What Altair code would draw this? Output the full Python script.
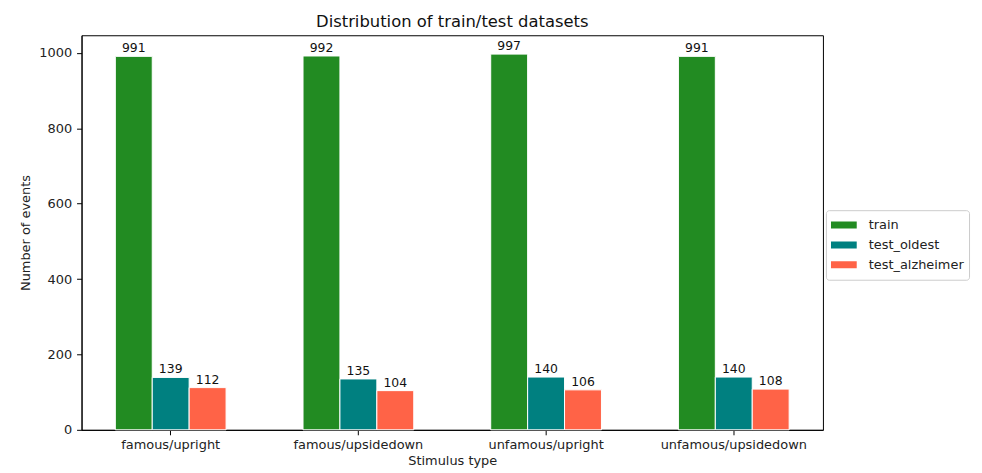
import altair as alt
import pandas as pd

categories = ["famous/upright", "famous/upsidedown", "unfamous/upright", "unfamous/upsidedown"]
series = ["train", "test_oldest", "test_alzheimer"]
train = [991, 992, 997, 991]
test_oldest = [139, 135, 140, 140]
test_alzheimer = [112, 104, 106, 108]
colors = ["#228B22", "#008080", "#FF6347"]

rows = []
for i, c in enumerate(categories):
    for s, vals in zip(series, [train, test_oldest, test_alzheimer]):
        rows.append({"category": c, "dataset": s, "value": vals[i]})
df = pd.DataFrame(rows)

FONT = "DejaVu Sans"

x = alt.X("category:N", sort=categories, title="Stimulus type",
          scale=alt.Scale(paddingInner=0.41, paddingOuter=0.18),
          axis=alt.Axis(labelAngle=0, labelFontSize=13, titleFontSize=13,
                        labelPadding=4, titlePadding=3, tickSize=5,
                        domainColor="#000", tickColor="#000",
                        labelColor="#222", titleColor="#222",
                        labelFont=FONT, titleFont=FONT, titleFontWeight="normal"))
xo = alt.XOffset("dataset:N", sort=series, scale=alt.Scale(paddingInner=0, paddingOuter=0))
y = alt.Y("value:Q", title="Number of events",
          scale=alt.Scale(domain=[0, 1047], nice=False),
          axis=alt.Axis(values=[0, 200, 400, 600, 800, 1000], grid=False, format="d",
                        labelFontSize=13, titleFontSize=13, tickSize=5,
                        labelPadding=5, titlePadding=6,
                        domainColor="#000", tickColor="#000",
                        labelColor="#222", titleColor="#222",
                        labelFont=FONT, titleFont=FONT, titleFontWeight="normal"))

color = alt.Color("dataset:N", sort=series,
                  scale=alt.Scale(domain=series, range=colors),
                  legend=alt.Legend(title=None, orient="none", legendX=749, legendY=176,
                                    symbolType="M-1,-0.27H1V0.27H-1Z", symbolSize=676,
                                    symbolStrokeWidth=0, labelFontSize=13, labelFont=FONT,
                                    labelColor="#222", labelOffset=12, clipHeight=20,
                                    rowPadding=0, padding=5, strokeColor="#ccc",
                                    fillColor="white", cornerRadius=3))

bars = alt.Chart(df).mark_bar(stroke="white", strokeWidth=1).encode(
    x=x, xOffset=xo, y=y, color=color)

labels = alt.Chart(df).mark_text(baseline="bottom", dy=-1, fontSize=12.5, font=FONT,
                                 color="#111").encode(
    x=x, xOffset=xo, y=y, text="value:Q")

chart = (bars + labels).properties(
    width=746, height=397,
    title=alt.TitleParams("Distribution of train/test datasets", fontSize=16.5,
                          font=FONT, fontWeight="normal", color="#111", offset=5),
    autosize=alt.AutoSizeParams(type="none"),
    padding={"left": 74, "top": 26, "right": 152, "bottom": 40},
).configure_view(stroke="#000", strokeWidth=1)

chart.save("out.html", embed_options={"renderer": "svg", "actions": False})
